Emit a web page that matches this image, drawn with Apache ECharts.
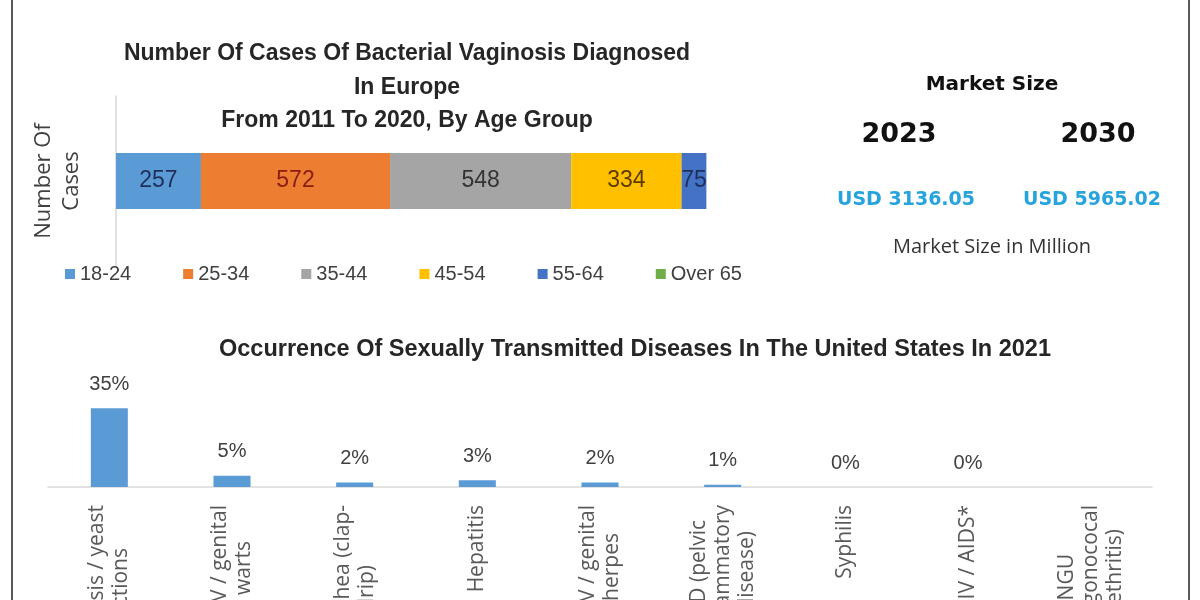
<!DOCTYPE html>
<html><head><meta charset="utf-8">
<script src="https://cdn.jsdelivr.net/npm/echarts@6/dist/echarts.min.js"></script>
<style>html,body{margin:0;padding:0;background:#fff}#c{width:1200px;height:600px}</style>
</head><body><div id="c"></div>
<script>
// ---- data ----
const ageGroups = ['18-24', '25-34', '35-44', '45-54', '55-64', 'Over 65'];
const caseValues = [257, 572, 548, 334, 75, null];
const caseCategory = ['Number Of Cases'];
const topTitle = 'Number Of Cases Of Bacterial Vaginosis Diagnosed\nIn Europe\nFrom 2011 To 2020, By Age Group';
const marketHeading = 'Market Size';
const marketYears = ['2023', '2030'];
const marketValues = ['USD 3136.05', 'USD 5965.02'];
const marketUnit = 'Market Size in Million';
const stdTitle = 'Occurrence Of Sexually Transmitted Diseases In The United States In 2021';
const stdCategories = ['Candidiasis / yeast\ninfections', 'HPV / genital\nwarts', 'Gonorrhea (clap-\ndrip)', 'Hepatitis', 'HSV / genital\nherpes', 'PID (pelvic\ninflammatory\ndisease)', 'Syphilis', 'HIV / AIDS*', 'NGU\n(nongonococal\nurethritis)'];
const stdValues = [35, 5, 2, 3, 2, 1, 0, 0, null];

// ---- styles ----
const ageColors = ['#5b9bd5', '#ed7d31', '#a5a5a5', '#ffc000', '#4472c4', '#70ad47'];
const ageLabelColors = ['#1f2f5c', '#8a1c10', '#333333', '#5c3a00', '#1f2f5c', '#2f4f1f'];
const F = "'Liberation Sans Narrow', 'Arial Narrow', sans-serif";
const LBL_FONT = 'Open Sans', LBL_SIZE = 21;

// centre the wrapped lines of each rotated axis label (Excel style)
const mctx = document.createElement('canvas').getContext('2d');
mctx.font = LBL_SIZE + 'px "' + LBL_FONT + '"';
const labelRich = {};
const labelText = {};
stdCategories.forEach(cat => {
  const lines = cat.split('\n');
  const ws = lines.map(s => mctx.measureText(s).width);
  const W = Math.max.apply(null, ws);
  labelText[cat] = lines.map((s, i) => {
    const p = Math.round((W - ws[i]) / 2);
    const key = 'p' + p;
    labelRich[key] = { padding: [0, p, 0, 0], fontSize: LBL_SIZE, lineHeight: 24, color: '#595959', fontFamily: LBL_FONT };
    return '{' + key + '|' + s + '}';
  }).join('\n');
});

const chart = echarts.init(document.getElementById('c'));

const topSeries = ageGroups.map((g, i) => ({
  name: g, type: 'bar', stack: 'total', xAxisIndex: 0, yAxisIndex: 0,
  barWidth: 56, data: [caseValues[i]],
  itemStyle: { color: ageColors[i] },
  label: { show: true, position: 'inside', color: ageLabelColors[i], fontSize: 23, fontFamily: F }
}));

chart.setOption({
  animation: false,
  backgroundColor: '#ffffff',
  title: [
    { text: topTitle, left: 407, top: 37, textAlign: 'center', padding: 0,
      textStyle: { fontSize: 23, fontWeight: 'bold', lineHeight: 33.5, color: '#262626', fontFamily: F } },
    { text: marketHeading, left: 992, top: 75, textAlign: 'center', padding: 0,
      textStyle: { fontSize: 20, fontWeight: 'bold', color: '#111', fontFamily: 'DejaVu Sans' } },
    { text: marketYears[0], left: 899, top: 121, textAlign: 'center', padding: 0,
      textStyle: { fontSize: 27, fontWeight: 'bold', color: '#111', fontFamily: 'DejaVu Sans' } },
    { text: marketYears[1], left: 1098, top: 121, textAlign: 'center', padding: 0,
      textStyle: { fontSize: 27, fontWeight: 'bold', color: '#111', fontFamily: 'DejaVu Sans' } },
    { text: marketValues[0], left: 906, top: 191, textAlign: 'center', padding: 0,
      textStyle: { fontSize: 19, fontWeight: 'bold', color: '#27a4dc', fontFamily: 'DejaVu Sans' } },
    { text: marketValues[1], left: 1092, top: 191, textAlign: 'center', padding: 0,
      textStyle: { fontSize: 19, fontWeight: 'bold', color: '#27a4dc', fontFamily: 'DejaVu Sans' } },
    { text: marketUnit, left: 992, top: 237, textAlign: 'center', padding: 0,
      textStyle: { fontSize: 20, fontWeight: 'normal', color: '#333', fontFamily: 'Open Sans' } },
    { text: stdTitle, left: 635, top: 338, textAlign: 'center', padding: 0,
      textStyle: { fontSize: 23.5, fontWeight: 'bold', color: '#262626', fontFamily: F } }
  ],
  legend: {
    data: ageGroups, left: 60, top: 259, icon: 'rect', itemWidth: 10, itemHeight: 10, itemGap: 52,
    textStyle: { fontSize: 20, color: '#404040', fontFamily: F }
  },
  grid: [
    { left: 116, right: 489, top: 96, height: 170, outerBoundsMode: 'none', containLabel: false },
    { left: 48, right: 48, top: 397, bottom: 113, outerBoundsMode: 'none', containLabel: false }
  ],
  xAxis: [
    { gridIndex: 0, type: 'value', min: 0, max: 1800, show: false },
    { gridIndex: 1, type: 'category', data: stdCategories,
      axisTick: { show: false },
      axisLine: { lineStyle: { color: '#d9d9d9', width: 1.5 } },
      axisLabel: {
        rotate: 90, interval: 0, margin: 18, hideOverlap: false,
        fontSize: LBL_SIZE, fontFamily: LBL_FONT, color: '#595959',
        formatter: v => labelText[v] || v,
        rich: labelRich
      } }
  ],
  yAxis: [
    { gridIndex: 0, type: 'category', data: caseCategory,
      axisTick: { show: false }, axisLabel: { show: false },
      axisLine: { lineStyle: { color: '#d9d9d9', width: 1.5 } },
      name: 'Number Of\nCases', nameLocation: 'middle', nameRotate: 90, nameGap: 30,
      nameTextStyle: { fontSize: 22, lineHeight: 28, color: '#404040', fontFamily: 'Open Sans' } },
    { gridIndex: 1, type: 'value', min: 0, max: 40, show: false }
  ],
  graphic: [
    { type: 'line', shape: { x1: 12, y1: 0, x2: 12, y2: 600 }, style: { stroke: '#595959', lineWidth: 2 } },
    { type: 'line', shape: { x1: 1189, y1: 0, x2: 1189, y2: 600 }, style: { stroke: '#595959', lineWidth: 2 } }
  ],
  series: topSeries.concat([{
    type: 'bar', xAxisIndex: 1, yAxisIndex: 1, data: stdValues, barWidth: 37,
    itemStyle: { color: '#5b9bd5' },
    label: { show: true, position: 'top', distance: 14, formatter: '{c}%', fontSize: 20, color: '#404040', fontFamily: F }
  }])
});
</script></body></html>
